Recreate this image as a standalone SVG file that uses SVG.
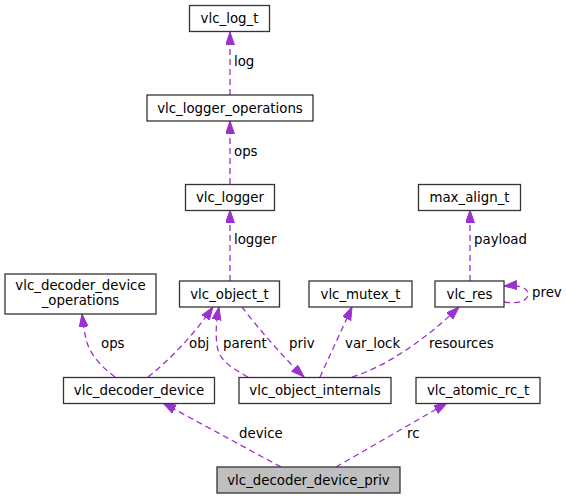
<svg xmlns="http://www.w3.org/2000/svg" width="567" height="499" viewBox="0 0 567 499">
<style>
.box{fill:#ffffff;stroke:#333333;stroke-width:1.3}
.hl{fill:#bfbfbf;stroke:#333333;stroke-width:1.3}
text{font-family:"DejaVu Sans","Liberation Sans",sans-serif;font-size:13.33px;fill:#000000}
.c{text-anchor:middle}
.e{fill:none;stroke:#9a32cd;stroke-width:1.3;stroke-dasharray:6,4;marker-end:url(#ah)}
</style>
<defs>
<marker id="ah" markerUnits="userSpaceOnUse" markerWidth="14" markerHeight="10" refX="13" refY="4.5" orient="auto">
<path d="M0,0 L13,4.5 L0,9 z" fill="#9a32cd" stroke="#9a32cd" stroke-width="1"/>
</marker>
</defs>
<g id="edges">
<path class="e" d="M230,95 L230,32"/>
<text x="234" y="66">log</text>
<path class="e" d="M230,184 L230,121"/>
<text x="234" y="156">ops</text>
<path class="e" d="M230,281 L230,210"/>
<text x="234" y="244">logger</text>
<path class="e" d="M115,377 C101,367 89,353 86,339 C84,331 83,322 82,314"/>
<text x="101" y="348">ops</text>
<path class="e" d="M148,377 C170,360 195,333 213,307"/>
<text x="189" y="348">obj</text>
<path class="e" d="M248,377 C233,369 221,361 218,350 C215,338 216,322 219,307"/>
<text x="223" y="348">parent</text>
<path class="e" d="M242,307 C258,328 283,357 304,377"/>
<text x="289" y="348">priv</text>
<path class="e" d="M320,377 C330,355 343,327 352,307"/>
<text x="345" y="348">var_lock</text>
<path class="e" d="M352,377 C385,367 425,340 459,307"/>
<text x="429" y="348">resources</text>
<path class="e" d="M470,281 L470,210"/>
<text x="474" y="244">payload</text>
<path class="e" d="M504,302 C516,304 528,302 528,294 C528,287 518,285 504,286"/>
<text x="532" y="297">prev</text>
<path class="e" d="M281,467 L163,403"/>
<text x="239" y="438">device</text>
<path class="e" d="M336,467 L447,403"/>
<text x="407" y="438">rc</text>
</g>
<g id="vlc_log_t"><rect class="box" x="189.5" y="5.5" width="80" height="26"/><text class="c" x="229.5" y="23">vlc_log_t</text></g>
<g id="vlc_logger_operations"><rect class="box" x="147" y="95" width="166" height="26"/><text class="c" x="230" y="112.5">vlc_logger_operations</text></g>
<g id="vlc_logger"><rect class="box" x="185.5" y="184.5" width="89" height="26"/><text class="c" x="230" y="202">vlc_logger</text></g>
<g id="vlc_object_t"><rect class="box" x="179.5" y="281" width="100" height="26"/><text class="c" x="229.5" y="298.5">vlc_object_t</text></g>
<g id="vlc_decoder_device_operations"><rect class="box" x="5" y="274" width="151" height="40"/><text class="c" x="80.5" y="290">vlc_decoder_device</text><text class="c" x="80.5" y="305">_operations</text></g>
<g id="vlc_decoder_device"><rect class="box" x="63.5" y="377.5" width="151" height="26"/><text class="c" x="139" y="395">vlc_decoder_device</text></g>
<g id="vlc_object_internals"><rect class="box" x="239" y="377.5" width="152" height="26"/><text class="c" x="315" y="395">vlc_object_internals</text></g>
<g id="vlc_mutex_t"><rect class="box" x="309" y="281" width="103" height="26"/><text class="c" x="360.5" y="298.5">vlc_mutex_t</text></g>
<g id="vlc_res"><rect class="box" x="435" y="281" width="69" height="26"/><text class="c" x="469.5" y="298.5">vlc_res</text></g>
<g id="max_align_t"><rect class="box" x="418.5" y="184.5" width="102" height="26"/><text class="c" x="469.5" y="202">max_align_t</text></g>
<g id="vlc_atomic_rc_t"><rect class="box" x="416" y="377.5" width="124" height="26"/><text class="c" x="478" y="395">vlc_atomic_rc_t</text></g>
<g id="vlc_decoder_device_priv"><rect class="hl" x="217" y="467" width="183" height="26"/><text class="c" x="308.5" y="484.5">vlc_decoder_device_priv</text></g>
</svg>
